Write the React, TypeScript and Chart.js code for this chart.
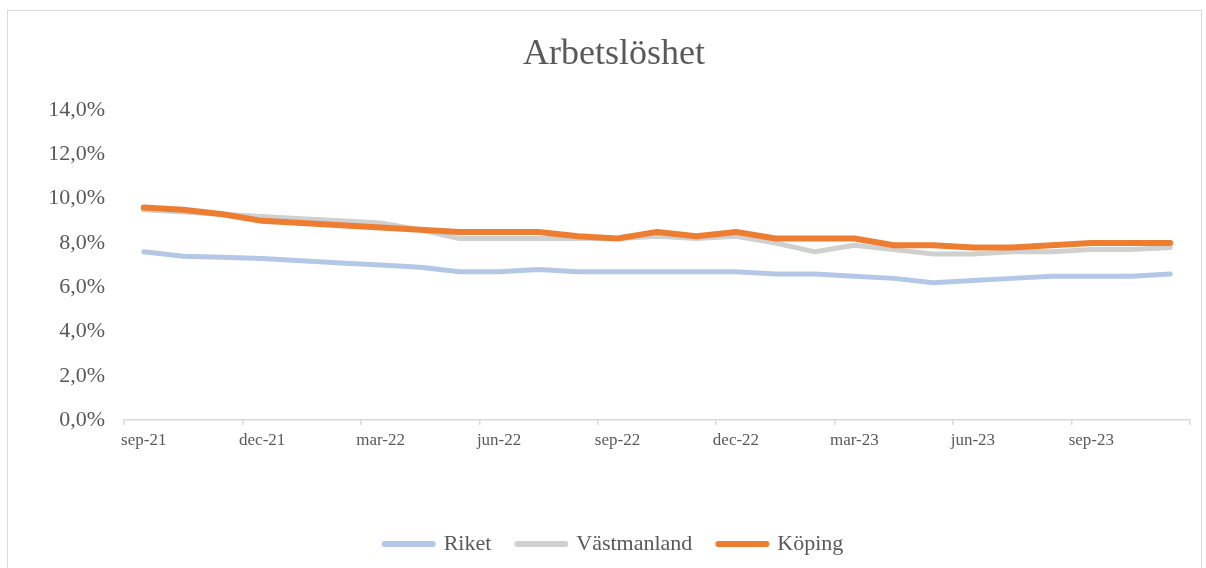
import React, { useEffect, useRef } from "react";
import { Chart, registerables } from "chart.js";

Chart.register(...registerables);

const months: string[] = [
  "sep-21", "okt-21", "nov-21", "dec-21", "jan-22", "feb-22", "mar-22", "apr-22", "maj-22",
  "jun-22", "jul-22", "aug-22", "sep-22", "okt-22", "nov-22", "dec-22", "jan-23", "feb-23",
  "mar-23", "apr-23", "maj-23", "jun-23", "jul-23", "aug-23", "sep-23", "okt-23", "nov-23",
];

const riket: number[] = [
  7.6, 7.4, 7.35, 7.3, 7.2, 7.1, 7.0, 6.9, 6.7, 6.7, 6.8, 6.7, 6.7, 6.7,
  6.7, 6.7, 6.6, 6.6, 6.5, 6.4, 6.2, 6.3, 6.4, 6.5, 6.5, 6.5, 6.6,
];

const vastmanland: number[] = [
  9.5, 9.4, 9.3, 9.2, 9.1, 9.0, 8.9, 8.6, 8.2, 8.2, 8.2, 8.2, 8.2, 8.3,
  8.2, 8.3, 8.0, 7.6, 7.9, 7.7, 7.5, 7.5, 7.6, 7.6, 7.7, 7.7, 7.8,
];

const koping: number[] = [
  9.6, 9.5, 9.3, 9.0, 8.9, 8.8, 8.7, 8.6, 8.5, 8.5, 8.5, 8.3, 8.2, 8.5,
  8.3, 8.5, 8.2, 8.2, 8.2, 7.9, 7.9, 7.8, 7.8, 7.9, 8.0, 8.0, 8.0,
];

const FONT = "'Liberation Serif', 'Times New Roman', serif";
const TEXT = "#595959";
const AXIS = "#D9D9D9";

export default function App() {
  const ref = useRef<HTMLCanvasElement | null>(null);

  useEffect(() => {
    if (!ref.current) return;
    const chart = new Chart(ref.current, {
      type: "line",
      data: {
        labels: months,
        datasets: [
          {
            label: "Riket",
            data: riket,
            borderColor: "#B4C7E7",
            backgroundColor: "#B4C7E7",
            borderWidth: 5,
            pointRadius: 0,
            tension: 0,
            borderCapStyle: "round",
            borderJoinStyle: "round",
            order: 2,
          },
          {
            label: "Västmanland",
            data: vastmanland,
            borderColor: "#D0D0D0",
            backgroundColor: "#D0D0D0",
            borderWidth: 5,
            pointRadius: 0,
            tension: 0,
            borderCapStyle: "round",
            borderJoinStyle: "round",
            order: 1,
          },
          {
            label: "Köping",
            data: koping,
            borderColor: "#ED7D31",
            backgroundColor: "#ED7D31",
            borderWidth: 6,
            pointRadius: 0,
            tension: 0,
            borderCapStyle: "round",
            borderJoinStyle: "round",
            order: 0,
          },
        ],
      },
      options: {
        responsive: false,
        animation: false,
        devicePixelRatio: 1,
        layout: { padding: { left: 38, right: 16, top: 0, bottom: 3 } },
        plugins: {
          tooltip: { enabled: false },
          title: {
            display: true,
            text: "Arbetslöshet",
            color: TEXT,
            font: { family: FONT, size: 36, weight: "normal" },
            padding: { top: 33, bottom: 34 },
          },
          legend: {
            position: "bottom",
            labels: {
              color: TEXT,
              font: { family: FONT, size: 22 },
              usePointStyle: true,
              pointStyle: "line",
              pointStyleWidth: 48,
              padding: 26,
              sort: (a: any, b: any) => a.datasetIndex - b.datasetIndex,
              generateLabels: (c: any) =>
                (Chart.defaults.plugins.legend.labels as any)
                  .generateLabels(c)
                  .map((l: any) => ({ ...l, lineWidth: 6, lineCap: "round", pointStyle: "line" })),
            },
          },
        },
        scales: {
          x: {
            type: "category",
            offset: true,
            afterFit: (s: any) => {
              s.height = 87;
            },
            grid: {
              offset: true,
              drawOnChartArea: false,
              drawTicks: true,
              tickLength: 5,
              lineWidth: 1.5,
              color: (ctx: any) =>
                ctx.index === undefined || ctx.index % 3 === 0 ? AXIS : "rgba(0,0,0,0)",
            },
            border: { display: true, color: AXIS, width: 1.5 },
            ticks: {
              autoSkip: false,
              maxRotation: 0,
              minRotation: 0,
              padding: 5,
              color: TEXT,
              font: { family: FONT, size: 17 },
              callback: (_v: any, i: number) => (i % 3 === 0 ? months[i] : ""),
            },
          },
          y: {
            min: 0,
            max: 14,
            afterFit: (s: any) => {
              s.width = 86;
            },
            grid: { display: false, drawTicks: false },
            border: { display: false },
            ticks: {
              stepSize: 2,
              padding: 19,
              color: TEXT,
              font: { family: FONT, size: 22 },
              callback: (v: any) => Number(v).toFixed(1).replace(".", ",") + "%",
            },
          },
        },
      },
    });
    return () => chart.destroy();
  }, []);

  return (
    <div style={{ position: "fixed", left: 0, top: 0, width: 1206, height: 568, background: "#fff", overflow: "hidden" }}>
      <div
        style={{
          position: "absolute",
          left: 7,
          top: 10,
          width: 1195,
          height: 600,
          boxSizing: "border-box",
          border: "1.5px solid #D9D9D9",
        }}
      />
      <canvas
        ref={ref}
        width={1206}
        height={568}
        style={{ position: "absolute", left: 0, top: 0, width: 1206, height: 568 }}
      />
    </div>
  );
}
